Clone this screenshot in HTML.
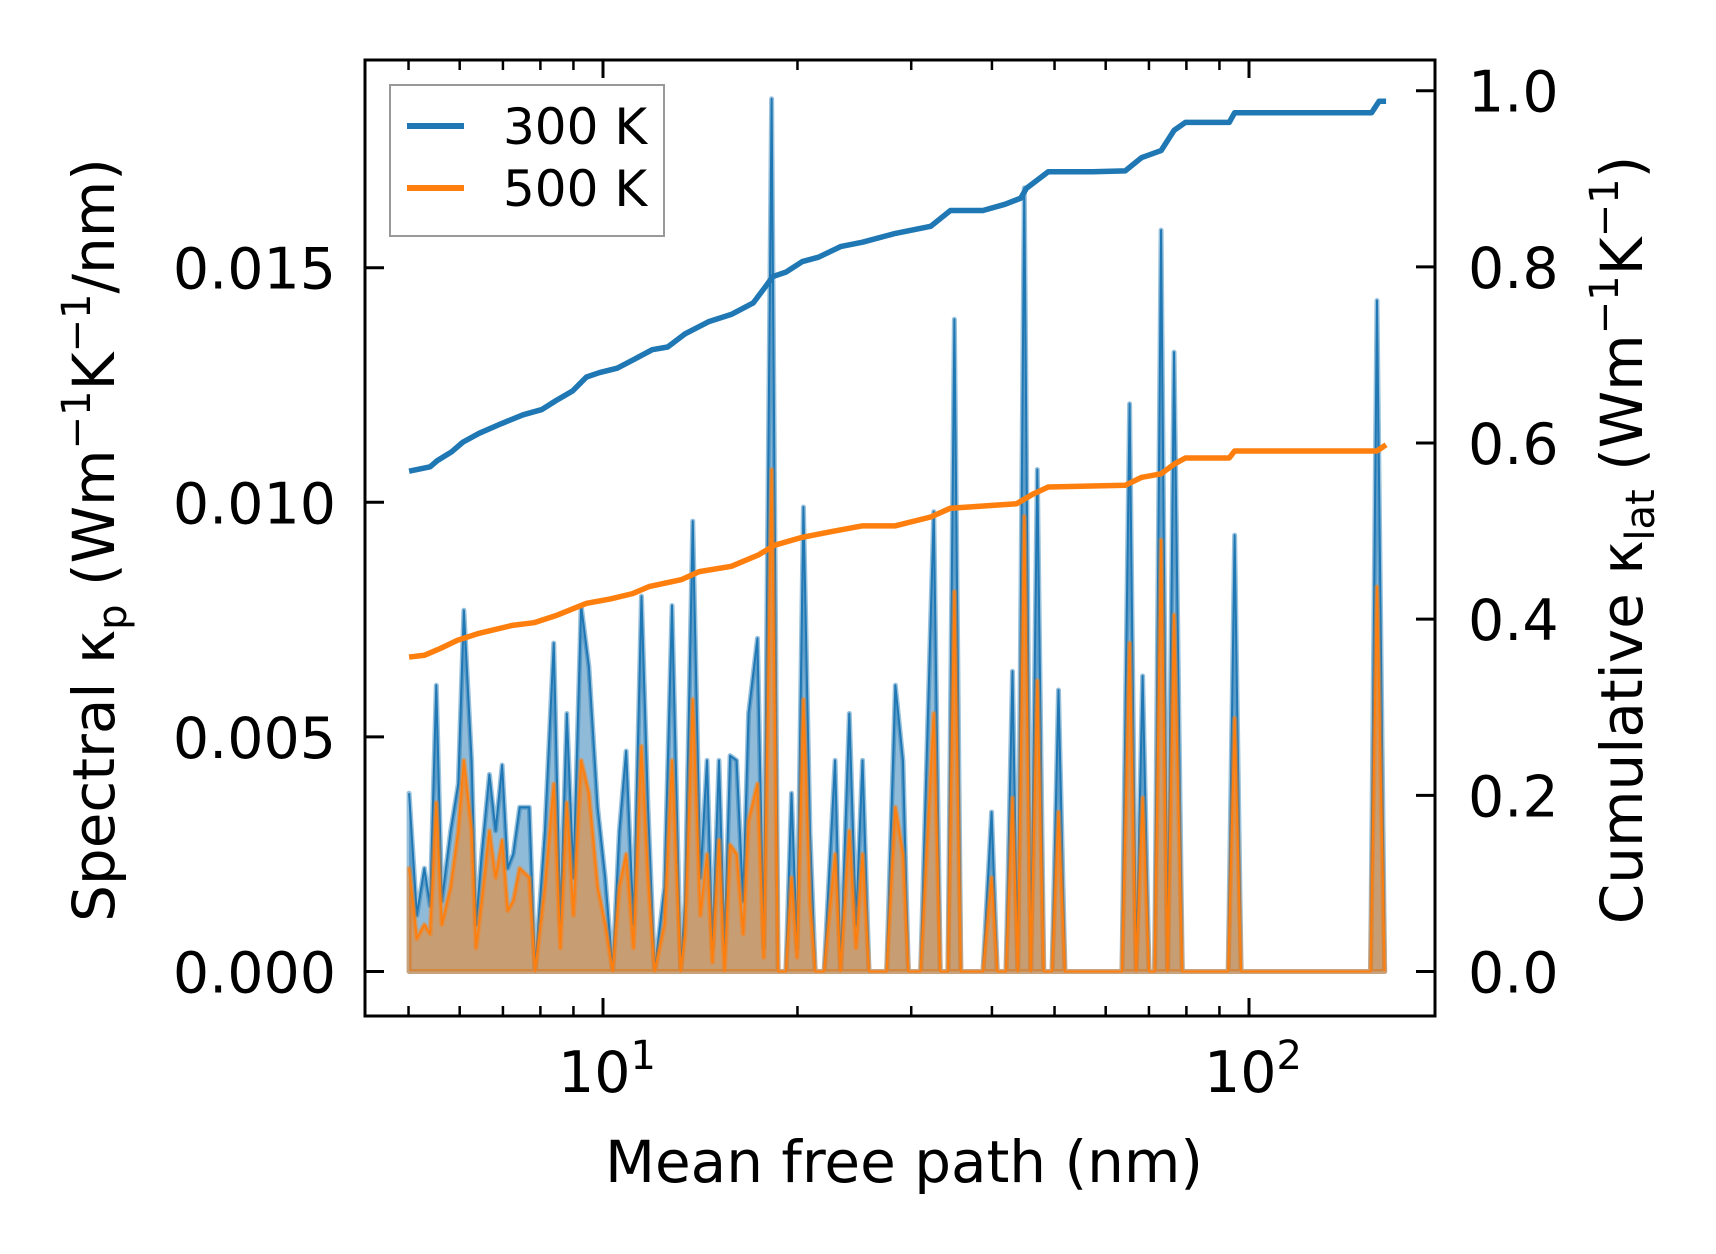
<!DOCTYPE html>
<html><head><meta charset="utf-8"><style>
html,body{margin:0;padding:0;background:#fff;}
svg{display:block;font-family:"DejaVu Sans","Liberation Sans",sans-serif;}
</style></head><body>
<svg id="chart" width="1716" height="1254" viewBox="0 0 1716 1254" xmlns="http://www.w3.org/2000/svg">
<rect width="1716" height="1254" fill="#fff"/>
<g id="plot"></g>
</svg>
<script>
const mfp=[5.01,5.15,5.29,5.40,5.52,5.63,5.81,5.97,6.09,6.26,6.36,6.49,6.67,6.82,6.98,7.12,7.26,7.43,7.69,7.85,8.13,8.39,8.59,8.79,9.00,9.25,9.51,9.81,10.08,10.35,10.60,10.86,11.15,11.47,11.74,12.02,12.45,12.79,13.19,13.40,13.77,14.15,14.49,14.77,15.12,15.42,15.73,16.10,16.48,16.80,17.34,17.74,18.24,18.67,19.19,19.58,19.97,20.43,20.91,21.31,21.99,22.87,23.32,24.06,24.64,25.22,25.81,27.48,28.35,29.13,29.70,31.02,32.51,33.27,34.19,34.99,35.81,38.74,39.95,40.77,42.05,43.04,43.86,44.89,45.94,47.02,48.12,49.55,50.71,51.90,63.58,65.34,66.87,68.44,70.04,71.42,73.10,74.81,76.56,78.84,81.30,92.84,95.01,97.23,154.2,157.8,162.2];
const spec300=[0.0038,0.0012,0.0022,0.0014,0.0061,0.0015,0.0030,0.0040,0.0077,0.0045,0.0010,0.0025,0.0042,0.0030,0.0044,0.0022,0.0025,0.0035,0.0035,0.0,0.0030,0.0070,0.0010,0.0055,0.0020,0.0078,0.0065,0.0035,0.0020,0.0,0.0030,0.0047,0.0010,0.0080,0.0035,0.0,0.0018,0.0078,0.0,0.0015,0.0096,0.0020,0.0045,0.0005,0.0045,0.0005,0.0046,0.0045,0.0015,0.0055,0.0071,0.0005,0.0186,0.0,0.0,0.0038,0.0005,0.0099,0.0030,0.0,0.0,0.0045,0.0,0.0055,0.0010,0.0045,0.0,0.0,0.0061,0.0045,0.0,0.0,0.0098,0.0,0.0,0.0139,0.0,0.0,0.0034,0.0,0.0,0.0064,0.0,0.0167,0.0,0.0107,0.0,0.0,0.0060,0.0,0.0,0.0121,0.0,0.0063,0.0,0.0,0.0158,0.0,0.0132,0.0,0.0,0.0,0.0093,0.0,0.0,0.0143,0.0];
const spec500=[0.0022,0.0007,0.0010,0.0008,0.0036,0.0010,0.0018,0.0030,0.0045,0.0030,0.0005,0.0015,0.0030,0.0020,0.0028,0.0013,0.0015,0.0022,0.0020,0.0,0.0018,0.0040,0.0005,0.0036,0.0012,0.0045,0.0038,0.0018,0.0010,0.0,0.0018,0.0025,0.0005,0.0048,0.0020,0.0,0.0010,0.0045,0.0,0.0008,0.0058,0.0012,0.0025,0.0002,0.0028,0.0,0.0027,0.0025,0.0008,0.0032,0.0040,0.0003,0.0107,0.0,0.0,0.0020,0.0003,0.0058,0.0015,0.0,0.0,0.0025,0.0,0.0030,0.0005,0.0025,0.0,0.0,0.0035,0.0025,0.0,0.0,0.0055,0.0,0.0,0.0081,0.0,0.0,0.0020,0.0,0.0,0.0037,0.0,0.0097,0.0,0.0062,0.0,0.0,0.0034,0.0,0.0,0.0070,0.0,0.0037,0.0,0.0,0.0092,0.0,0.0076,0.0,0.0,0.0,0.0054,0.0,0.0,0.0082,0.0];
const cum300X=[5.01,5.40,5.54,5.83,6.07,6.43,6.96,7.52,8.04,8.45,8.97,9.43,9.88,10.52,11.11,11.92,12.59,13.40,14.60,15.80,17.08,17.74,18.32,19.19,20.35,21.56,23.32,25.22,28.35,32.15,34.50,38.74,41.89,44.33,45.21,48.90,57.26,64.33,68.18,73.10,76.56,79.72,93.20,95.01,154.8,159.0,163.0];
const cum300Y=[0.568,0.573,0.580,0.590,0.601,0.611,0.622,0.632,0.638,0.648,0.659,0.675,0.680,0.685,0.694,0.706,0.709,0.724,0.738,0.746,0.759,0.775,0.789,0.794,0.806,0.811,0.823,0.828,0.838,0.846,0.864,0.864,0.871,0.878,0.889,0.908,0.908,0.909,0.924,0.932,0.955,0.964,0.964,0.975,0.975,0.988,0.988];
const cum500X=[5.01,5.29,5.61,5.95,6.43,7.24,7.82,8.45,9.43,10.27,11.11,11.78,13.24,14.09,15.80,17.41,18.44,20.35,22.43,25.22,28.35,32.15,34.50,43.67,46.29,48.90,64.33,68.18,73.10,76.56,79.72,93.20,95.01,157.8,163.0];
const cum500Y=[0.357,0.359,0.367,0.376,0.384,0.393,0.396,0.404,0.418,0.423,0.429,0.437,0.445,0.454,0.460,0.473,0.484,0.493,0.499,0.506,0.506,0.516,0.526,0.531,0.542,0.550,0.552,0.561,0.565,0.576,0.583,0.583,0.591,0.591,0.598];
const leftTicks=[0,0.005,0.010,0.015];
const leftTickLabels=["0.000","0.005","0.010","0.015"];
const rightTicks=[0,0.2,0.4,0.6,0.8,1.0];
const rightTickLabels=["0.0","0.2","0.4","0.6","0.8","1.0"];
const xMajor=[10,100];
const xMinor=[5,6,7,8,9,20,30,40,50,60,70,80,90];

const L=365,R=1435,T=60,B=1016;
const X=v=>603+646*Math.log10(v/10);
const YL=v=>971.5-v/0.005*234.6;
const YR=v=>971.5-v*880.8;
const NS="http://www.w3.org/2000/svg";
const g=document.getElementById('plot');
function mk(tag,attrs,parent){const e=document.createElementNS(NS,tag);for(const k in attrs)e.setAttribute(k,attrs[k]);(parent||g).appendChild(e);return e;}

function area(vals,color,name){
  let d=`M${X(mfp[0])},${YL(0)}`;
  mfp.forEach((m,i)=>{d+=`L${X(m)},${YL(vals[i])}`;});
  d+=`L${X(mfp[mfp.length-1])},${YL(0)}Z`;
  const a=mk('path',{d:d,fill:color,'fill-opacity':0.5,stroke:color,'stroke-opacity':0.45,'stroke-width':5,'stroke-linejoin':'round'});
  
  
  const pts=mfp.map((m,i)=>`${X(m)},${YL(vals[i])}`).join(' ');
  const l2=mk('polyline',{points:pts,fill:'none',stroke:color,'stroke-width':2,'stroke-linejoin':'round'});
  
  
}
area(spec300,'#1f77b4','spectral-300k');
area(spec500,'#ff7f0e','spectral-500k');

function cum(xs,ys,color,name){
  const pts=xs.map((m,i)=>`${X(m)},${YR(ys[i])}`).join(' ');
  const l=mk('polyline',{points:pts,fill:'none',stroke:color,'stroke-width':5.5,'stroke-linejoin':'round'});
  
  
}
cum(cum300X,cum300Y,'#1f77b4','cumulative-300k');
cum(cum500X,cum500Y,'#ff7f0e','cumulative-500k');

const frame=mk('rect',{x:L,y:T,width:R-L,height:B-T,fill:'none',stroke:'#000','stroke-width':3});



leftTicks.forEach((v,i)=>{
  const y=YL(v);
  const t=mk('line',{x1:L,x2:L+19,y1:y,y2:y,stroke:'#000','stroke-width':3});
  
  
  const tx=mk('text',{x:336,y:y+21,'text-anchor':'end','font-size':57});
  tx.textContent=leftTickLabels[i];
  
  
});
rightTicks.forEach((v,i)=>{
  const y=YR(v);
  const t=mk('line',{x1:R-19,x2:R,y1:y,y2:y,stroke:'#000','stroke-width':3});
  
  
  const tx=mk('text',{x:1468,y:y+21,'text-anchor':'start','font-size':57});
  tx.textContent=rightTickLabels[i];
  
  
});
xMinor.forEach(v=>{
  const x=X(v);
  [[B,B-10],[T,T+10]].forEach(p=>{
    const t=mk('line',{x1:x,x2:x,y1:p[0],y2:p[1],stroke:'#000','stroke-width':2.5});
    
    
  });
});
xMajor.forEach((v,i)=>{
  const x=X(v);
  [[B,B-18],[T,T+18]].forEach(p=>{
    const t=mk('line',{x1:x,x2:x,y1:p[0],y2:p[1],stroke:'#000','stroke-width':3});
    
    
  });
  const tx=mk('text',{x:x+4,y:1092,'text-anchor':'middle','font-size':57});
  tx.innerHTML='10<tspan dy="-23" font-size="40">'+(i+1)+'</tspan>';
  
  
});

const xl=mk('text',{x:904,y:1182,'text-anchor':'middle','font-size':58});
xl.textContent='Mean free path (nm)';



const yl=mk('text',{x:0,y:0,'text-anchor':'middle','font-size':58,transform:'translate(114,540) rotate(-90)'});
yl.innerHTML='Spectral κ<tspan dy="12" font-size="40">p</tspan><tspan dy="-12"> (Wm</tspan><tspan dy="-24" font-size="40">−1</tspan><tspan dy="24">K</tspan><tspan dy="-24" font-size="40">−1</tspan><tspan dy="24">/nm)</tspan>';



const yr=mk('text',{x:0,y:0,'text-anchor':'middle','font-size':58,transform:'translate(1642,540) rotate(-90)'});
yr.innerHTML='Cumulative κ<tspan dy="12" font-size="40">lat</tspan><tspan dy="-12"> (Wm</tspan><tspan dy="-24" font-size="40">−1</tspan><tspan dy="24">K</tspan><tspan dy="-24" font-size="40">−1</tspan><tspan dy="24">)</tspan>';



const lg=mk('g',{});


mk('rect',{x:390,y:85,width:274,height:151,fill:'#fff','fill-opacity':0.8,stroke:'#999','stroke-width':2},lg);
[['300 K','#1f77b4',126],['500 K','#ff7f0e',188]].forEach(e=>{
  const ln=mk('line',{x1:407,x2:464,y1:e[2],y2:e[2],stroke:e[1],'stroke-width':6},lg);
  
  
  const tx=mk('text',{x:503,y:e[2]+18,'font-size':50},lg);
  tx.textContent=e[0];
  
  
});
</script>
</body></html>
